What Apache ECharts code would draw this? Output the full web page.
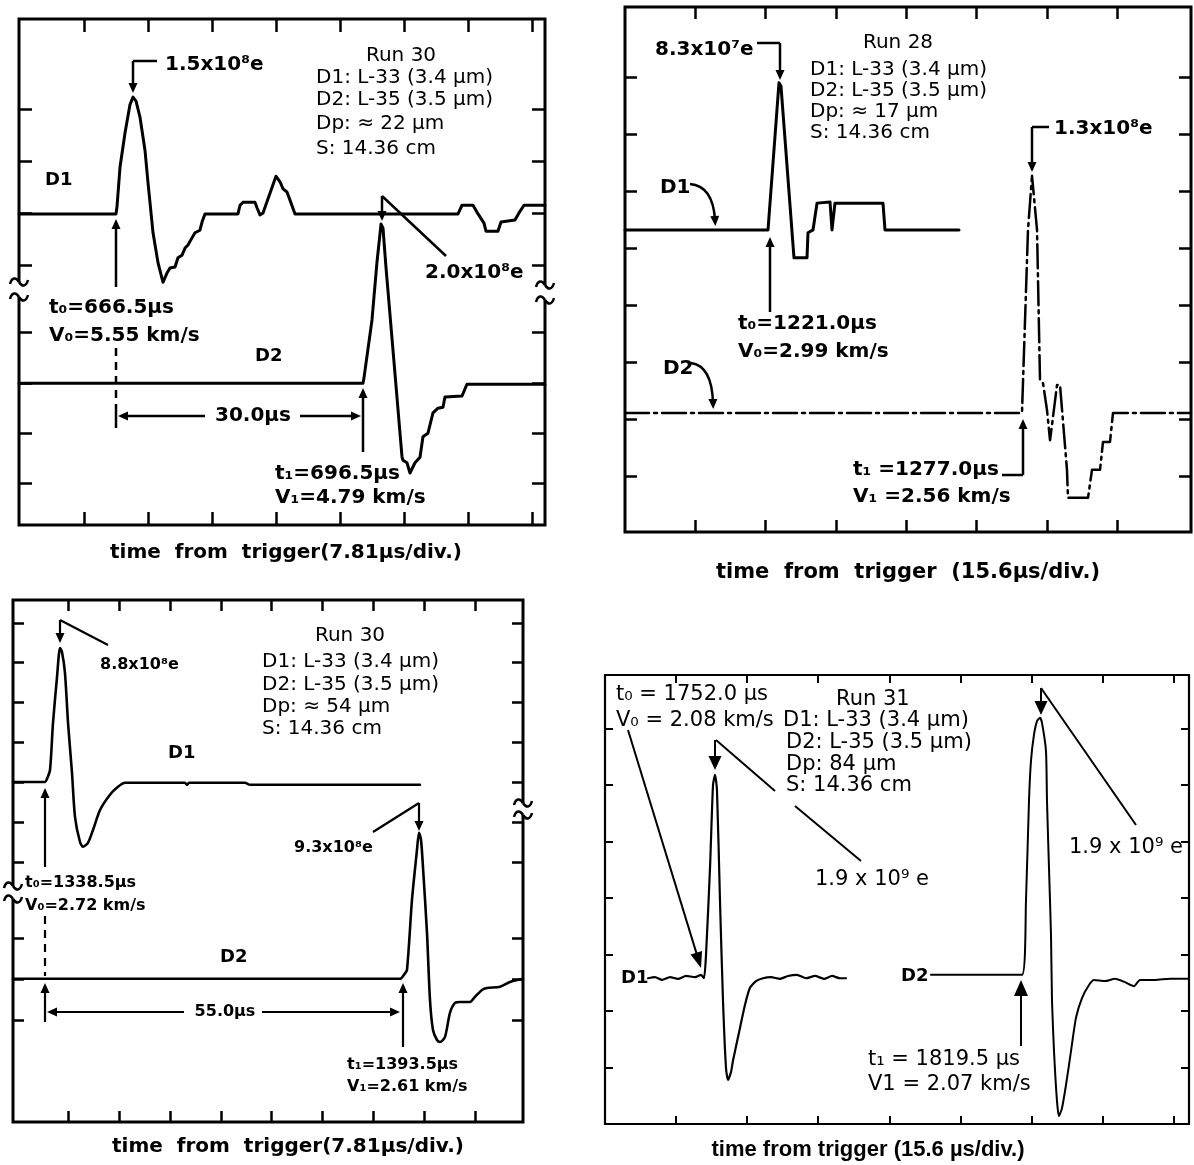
<!DOCTYPE html>
<html><head><meta charset="utf-8">
<script src="https://cdn.jsdelivr.net/npm/echarts@6/dist/echarts.min.js"></script>
<style>html,body{margin:0;padding:0;background:#fff}#c{width:1194px;height:1165px}</style>
</head><body><div id="c"></div>
<script>
// ---------- DATA (time in µs, signal in screen divisions) ----------
const run30aD1 = [[654.68,6.10],[666.50,6.10],[666.62,6.24],[666.99,7.02],[667.60,7.69],[668.20,8.24],[668.57,8.39],[668.94,8.31],[669.42,8.00],[670.03,7.35],[670.40,6.71],[671.01,5.73],[671.62,5.14],[672.23,4.76],[672.71,4.94],[673.08,5.04],[673.69,5.06],[674.05,5.24],[674.54,5.29],[674.91,5.43],[675.27,5.49],[675.76,5.63],[676.12,5.73],[676.73,5.78],[676.98,5.94],[677.34,6.10],[681.36,6.10],[681.61,6.27],[681.97,6.33],[683.43,6.33],[683.68,6.22],[684.04,6.08],[684.41,6.12],[685.99,6.84],[686.48,6.73],[686.85,6.59],[687.33,6.53],[687.70,6.37],[688.31,6.10],[708.17,6.10],[708.66,6.27],[710.00,6.27],[710.61,6.10],[711.34,5.92],[711.58,5.76],[713.04,5.76],[713.41,5.94],[715.11,5.98],[715.60,6.12],[716.21,6.27],[718.77,6.27]];
const run30aD2 = [[654.68,2.78],[696.59,2.78],[696.71,2.88],[697.69,4.02],[698.30,5.16],[698.79,5.90],[699.03,5.82],[699.40,5.04],[700.37,3.20],[701.35,1.33],[701.47,1.27],[701.95,1.22],[702.32,1.02],[702.93,1.22],[703.54,1.33],[703.90,1.73],[704.51,1.80],[705.12,2.20],[705.73,2.29],[706.34,2.31],[706.58,2.51],[708.66,2.53],[709.26,2.76],[718.77,2.76]];
const run28D1 = [[1188.87,5.30],[1220.56,5.30],[1222.99,7.88],[1223.44,7.82],[1226.32,4.81],[1229.20,4.81],[1229.42,5.25],[1230.53,5.30],[1231.42,5.77],[1234.30,5.79],[1234.74,5.30],[1235.40,5.77],[1246.04,5.77],[1246.48,5.30],[1262.88,5.30]];
const run28D2 = [[1188.87,2.09],[1276.84,2.09],[1278.17,5.30],[1279.06,6.25],[1280.17,5.30],[1280.83,2.67],[1281.50,2.61],[1282.38,2.14],[1283.05,1.61],[1283.49,1.88],[1284.60,2.58],[1285.26,2.58],[1286.81,1.09],[1287.03,0.60],[1291.47,0.60],[1292.35,1.09],[1294.13,1.09],[1294.79,1.58],[1296.34,1.58],[1297.01,2.09],[1314.29,2.09]];
const run30bD1 = [[1333.58,8.50],[1338.50,8.50],[1338.81,8.58],[1339.27,8.80],[1339.73,9.98],[1340.35,11.13],[1340.81,11.85],[1341.11,11.75],[1341.57,11.23],[1342.04,9.98],[1342.65,8.73],[1343.11,7.63],[1343.88,7.00],[1344.34,6.88],[1345.11,6.98],[1345.88,7.30],[1346.96,7.80],[1348.49,8.18],[1349.72,8.38],[1350.80,8.48],[1360.02,8.48],[1360.33,8.43],[1360.64,8.48],[1369.25,8.48],[1370.02,8.43],[1396.15,8.43]];
const run30bD2 = [[1333.58,3.58],[1393.08,3.58],[1393.69,3.68],[1394.15,3.80],[1394.92,5.55],[1395.69,6.80],[1396.00,7.23],[1396.31,7.05],[1396.61,6.38],[1397.23,4.73],[1397.69,3.05],[1398.15,2.30],[1398.77,2.05],[1399.23,2.00],[1400.00,2.13],[1400.76,2.73],[1401.53,2.98],[1402.30,3.00],[1403.84,3.00],[1404.61,3.13],[1405.68,3.30],[1406.45,3.35],[1408.45,3.38],[1409.99,3.50],[1411.99,3.58]];
const run31D1 = [[1739.72,2.58],[1741.25,2.60],[1742.79,2.55],[1744.54,2.60],[1746.30,2.57],[1748.05,2.62],[1750.03,2.60],[1751.34,2.64],[1752.00,2.58],[1752.44,2.99],[1753.32,4.53],[1753.98,6.00],[1754.42,6.18],[1754.85,5.91],[1755.51,3.95],[1756.17,2.18],[1756.83,0.99],[1757.27,0.78],[1757.93,0.92],[1758.36,1.12],[1759.90,1.70],[1761.00,2.11],[1762.09,2.41],[1763.41,2.53],[1764.95,2.58],[1766.70,2.60],[1768.68,2.57],[1770.43,2.62],[1772.41,2.64],[1774.38,2.58],[1776.36,2.62],[1778.33,2.57],[1780.09,2.62],[1781.84,2.58],[1783.16,2.58]];
const run31D2 = [[1801.81,2.64],[1821.77,2.64],[1822.65,3.95],[1823.31,5.72],[1823.75,6.43],[1824.41,6.89],[1825.07,7.13],[1825.72,7.19],[1826.16,7.10],[1827.04,6.60],[1827.26,5.72],[1827.70,4.53],[1828.14,3.35],[1828.36,2.18],[1828.80,1.29],[1829.45,0.41],[1829.89,0.14],[1830.55,0.28],[1831.43,0.69],[1832.53,1.29],[1833.62,1.88],[1834.94,2.23],[1836.48,2.46],[1837.57,2.55],[1839.99,2.53],[1842.18,2.57],[1844.37,2.51],[1846.35,2.44],[1847.66,2.55],[1850.96,2.55],[1854.25,2.57],[1858.42,2.57]];

const p1XTicks = [662.60,670.41,678.22,686.03,693.84,701.65,709.46,717.27];
const p1YTicks = [0.82,1.80,2.78,3.78,5.10,6.12,7.14,8.16];
const p2XTicks = [1204.38,1219.98,1235.58,1251.18,1266.78,1282.38,1297.98];
const p2YTicks = [0.98,1.98,2.98,3.98,4.98,5.98,6.98,7.98];
const p3XTicks = [1342.11,1349.92,1357.73,1365.54,1373.35,1381.16,1388.97,1396.78,1404.59];
const p3YTicks = [2.55,3.58,4.60,6.50,7.50,8.50,9.50,10.50,11.50,12.48];
const p4XTicks = [1745.86,1761.46,1777.06,1792.66,1808.26,1823.86,1839.46,1855.06];
const p4YTicks = [1,2,3,4,5,6,7];

// ---------- LAYOUT ----------
const panels = [
  {g:[19,19,526,506], x:[654.68,718.77], y:[0,9.922], xt:p1XTicks, yt:p1YTicks, tl:13, tw:2.5, fw:3,
   name:'time  from  trigger(7.81µs/div.)', nf:'bold', ns:20, nfam:'DejaVu Sans', gap:18, pad:[0,0,0,8],
   series:[{d:run30aD1,w:3},{d:run30aD2,w:3}]},
  {g:[625,7,566,525], x:[1188.87,1314.29], y:[0,9.211], xt:p2XTicks, yt:p2YTicks, tl:12, tw:2.5, fw:3,
   name:'time  from  trigger  (15.6µs/div.)', nf:'bold', ns:21, nfam:'DejaVu Sans', gap:30, pad:[0,0,0,0],
   series:[{d:run28D1,w:3},{d:run28D2,w:2.5,dash:[24,5,3,5]}]},
  {g:[13,600,510,522], x:[1333.58,1411.99], y:[0,13.05], xt:p3XTicks, yt:p3YTicks, tl:11, tw:2.5, fw:3,
   name:'time  from  trigger(7.81µs/div.)', nf:'bold', ns:20, nfam:'DejaVu Sans', gap:15, pad:[0,0,0,40],
   series:[{d:run30bD1,w:2.6,smooth:0.25},{d:run30bD2,w:2.6,smooth:0.25}]},
  {g:[605,675,584,449], x:[1730.28,1858.42], y:[0,7.947], xt:p4XTicks, yt:p4YTicks, tl:8, tw:2, fw:2.2,
   name:'time from trigger (15.6 µs/div.)', nf:'bold', ns:22, nfam:'Liberation Sans', gap:15, pad:[0,58,0,0],
   series:[{d:run31D1,w:2.2,smooth:0.2},{d:run31D2,w:2,smooth:0.2}]}
];

const grids=[], xAxes=[], yAxes=[], series=[];
panels.forEach((p,i)=>{
  grids.push({left:p.g[0], top:p.g[1], width:p.g[2], height:p.g[3], show:true, borderColor:'#000',
    borderWidth:p.fw, backgroundColor:'transparent', containLabel:false, outerBoundsMode:'none'});
  const tick = {show:true, inside:true, length:p.tl, lineStyle:{color:'#000', width:p.tw}};
  ['bottom','top'].forEach((pos,k)=>{
    const ax = {gridIndex:i, type:'value', min:p.x[0], max:p.x[1], position:pos, silent:true,
      axisLine:{show:false, onZero:false}, axisTick:Object.assign({customValues:p.xt}, tick),
      axisLabel:{show:false}, splitLine:{show:false}};
    if(k===0){ Object.assign(ax,{name:p.name, nameLocation:'middle', nameGap:p.gap,
      nameTextStyle:{color:'#000', fontWeight:p.nf, fontSize:p.ns, fontFamily:p.nfam, padding:p.pad}}); }
    xAxes.push(ax);
  });
  ['left','right'].forEach(pos=>{
    yAxes.push({gridIndex:i, type:'value', min:p.y[0], max:p.y[1], position:pos, silent:true,
      axisLine:{show:false, onZero:false}, axisTick:Object.assign({customValues:p.yt}, tick),
      axisLabel:{show:false}, splitLine:{show:false}});
  });
  p.series.forEach(s=>{
    series.push({type:'line', xAxisIndex:2*i, yAxisIndex:2*i, data:s.d, showSymbol:false, symbol:'none',
      smooth:s.smooth||false, silent:true, clip:true,
      lineStyle:{color:'#000', width:s.w, type:s.dash||'solid', join:'round', cap:'round'}});
  });
});

// ---------- ANNOTATIONS ----------
const LF = 'bold 20px "DejaVu Sans"', LF3 = 'bold 16px "DejaVu Sans"';
const BF = '20px "DejaVu Sans"', BF4 = '21px "DejaVu Sans"';
const LAB = 'bold 18px "DejaVu Sans"';
function T(x,y,text,font,align){ align=align||'left';
  return {type:'text', x:x, y:y, z:100, silent:true, style:{text:text, font:font, fill:'#000',
    align:align, verticalAlign:'middle', textAlign:align, textVerticalAlign:'middle'}}; }
function L(x1,y1,x2,y2,w,dash){ return {type:'line', z:100, silent:true, shape:{x1:x1,y1:y1,x2:x2,y2:y2},
  style:{stroke:'#000', lineWidth:w||2, lineDash:dash||null, fill:null}}; }
function H(x2,y2,ux,uy,hl,hw){ const bx=x2-ux*hl, by=y2-uy*hl;
  return {type:'polygon', z:101, silent:true, shape:{points:[[x2,y2],[bx-uy*hw,by+ux*hw],[bx+uy*hw,by-ux*hw]]}, style:{fill:'#000'}}; }
function A(x1,y1,x2,y2,w,hl,hw){ hl=hl||10; hw=hw||4.5;
  const dx=x2-x1, dy=y2-y1, d=Math.hypot(dx,dy), ux=dx/d, uy=dy/d;
  return [L(x1,y1,x2-ux*(hl-2),y2-uy*(hl-2),w), H(x2,y2,ux,uy,hl,hw)]; }
function BZ(x1,y1,c1x,c1y,c2x,c2y,x2,y2,w,z){ return {type:'bezierCurve', z:z||100, silent:true,
  shape:{x1:x1,y1:y1,cpx1:c1x,cpy1:c1y,cpx2:c2x,cpy2:c2y,x2:x2,y2:y2}, style:{stroke:'#000', lineWidth:w||2.5, fill:null}}; }
function CA(x1,y1,cx,cy,x2,y2,w){ const dx=x2-cx, dy=y2-cy, d=Math.hypot(dx,dy);
  return [{type:'bezierCurve', z:100, silent:true, shape:{x1:x1,y1:y1,cpx1:cx,cpy1:cy,x2:x2,y2:y2},
    style:{stroke:'#000', lineWidth:w||2.5, fill:null}}, H(x2+dx/d*6,y2+dy/d*6,dx/d,dy/d,10,4.5)]; }
function tilde(x,y){ return [BZ(x-9,y+2,x-7,y-5,x-3,y-5,x,y,2.5,102), BZ(x,y,x+3,y+5,x+7,y+5,x+9,y-2,2.5,102)]; }
function BRK(x,y1,y2){ return [{type:'rect', z:101, silent:true, shape:{x:x-4,y:y1,width:8,height:y2-y1}, style:{fill:'#fff'}}, ...tilde(x,y1), ...tilde(x,y2)]; }

let G = [];
// Panel 1 (Run 30, upper left)
G.push(T(45,180,'D1',LAB), T(255,356,'D2',LAB), T(165,65,'1.5x10⁸e',LF),
  T(401,56,'Run 30',BF,'center'), T(316,78,'D1: L-33 (3.4 µm)',BF), T(316,100,'D2: L-35 (3.5 µm)',BF),
  T(316,124,'Dp: ≈ 22 µm',BF), T(316,149,'S: 14.36 cm',BF),
  T(49,308,'t₀=666.5µs',LF), T(49,336,'V₀=5.55 km/s',LF), T(253,416,'30.0µs',LF,'center'),
  T(275,474,'t₁=696.5µs',LF), T(275,498,'V₁=4.79 km/s',LF), T(425,273,'2.0x10⁸e',LF),
  L(133,61,157,61,2.5), ...A(133,61,133,93,2.5), ...A(116,287,116,219,2.5),
  L(116,348,116,404,2.5,[8,6]), L(116,404,116,428,2.5), ...A(205,416,118,416,2.5), ...A(300,416,361,416,2.5),
  ...A(363,452,363,388,2.5), ...A(382,196,382,221,2.5), L(382,196,446,256,2.5),
  ...BRK(19,282,297), ...BRK(545,285,300));
// Panel 2 (Run 28, upper right)
G.push(T(655,50,'8.3x10⁷e',LF), T(898,43,'Run 28',BF,'center'), T(810,70,'D1: L-33 (3.4 µm)',BF),
  T(810,91,'D2: L-35 (3.5 µm)',BF), T(810,112,'Dp: ≈ 17 µm',BF), T(810,133,'S: 14.36 cm',BF),
  T(660,188,'D1','bold 20px "DejaVu Sans"'), T(663,369,'D2','bold 20px "DejaVu Sans"'),
  T(738,324,'t₀=1221.0µs',LF), T(738,352,'V₀=2.99 km/s',LF), T(1054,129,'1.3x10⁸e',LF),
  T(853,470,'t₁ =1277.0µs',LF), T(853,497,'V₁ =2.56 km/s',LF),
  L(757,43,780,43,2.5), ...A(780,43,780,80,2.5), ...CA(690,184,713,186,715,220,2.5), ...CA(691,363,712,366,713,403,2.5),
  ...A(770,312,770,237,2.5), L(1049,127,1032,127,2.5), ...A(1032,127,1032,172,2.5),
  L(1002,475,1023,475,2.5), ...A(1023,475,1023,419,2.5));
// Panel 3 (Run 30, lower left)
G.push(T(100,665,'8.8x10⁸e',LF3), T(350,636,'Run 30',BF,'center'), T(262,662,'D1: L-33 (3.4 µm)',BF),
  T(262,685,'D2: L-35 (3.5 µm)',BF), T(262,707,'Dp: ≈ 54 µm',BF), T(262,729,'S: 14.36 cm',BF),
  T(168,753,'D1',LAB), T(220,957,'D2',LAB),
  T(25,883,'t₀=1338.5µs',LF3), T(25,906,'V₀=2.72 km/s',LF3), T(225,1012,'55.0µs',LF3,'center'),
  T(347,1065,'t₁=1393.5µs',LF3), T(347,1087,'V₁=2.61 km/s',LF3), T(294,848,'9.3x10⁸e',LF3),
  ...A(60,620,60,643,2.2), L(60,620,108,645,2.2), ...A(45,867,45,788,2.2),
  L(45,916,45,976,2.2,[8,6]), ...A(45,1022,45,983,2.2), ...A(184,1012,47,1012,2.2), ...A(262,1012,400,1012,2.2),
  ...A(403,1047,403,983,2.2), L(373,832,419,803,2.2), ...A(419,803,419,831,2.2),
  ...BRK(13,886,899), ...BRK(523,803,815));
// Panel 4 (Run 31, lower right)
G.push(T(616,695,'t₀ = 1752.0 µs',BF4), T(616,721,'V₀ = 2.08 km/s',BF4), T(836,700,'Run 31',BF4),
  T(783,721,'D1: L-33 (3.4 µm)',BF4), T(786,743,'D2: L-35 (3.5 µm)',BF4), T(786,765,'Dp: 84 µm',BF4),
  T(786,786,'S: 14.36 cm',BF4), T(815,880,'1.9 x 10⁹ e',BF4), T(1069,848,'1.9 x 10⁹ e',BF4),
  T(621,978,'D1','bold 18px "DejaVu Sans"'), T(901,976,'D2','bold 18px "DejaVu Sans"'),
  T(868,1060,'t₁ = 1819.5 µs',BF4), T(868,1085,'V1 = 2.07 km/s',BF4),
  ...A(628,730,701,968,2,16,6), ...A(715,740,715,770,2,14,6.5), L(716,740,775,791,2), L(795,806,861,861,2),
  ...A(1041,688,1041,715,2,14,6.5), L(1041,688,1136,825,2), ...A(1021,1046,1021,980,2,16,7));

const chart = echarts.init(document.getElementById('c'), null, {renderer:'canvas'});
chart.setOption({backgroundColor:'#fff', animation:false, grid:grids, xAxis:xAxes, yAxis:yAxes, series:series, graphic:{elements:G}});
</script></body></html>
